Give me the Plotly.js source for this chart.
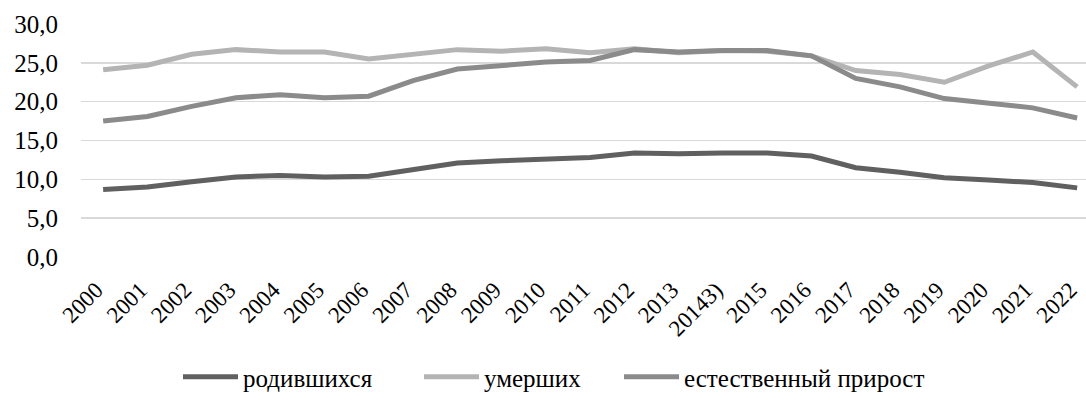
<!DOCTYPE html>
<html>
<head>
<meta charset="utf-8">
<script src="https://cdn.plot.ly/plotly-3.0.1.min.js"></script>
<style>html,body{margin:0;padding:0;background:#fff}#chart{width:1086px;height:400px}</style>
</head>
<body>
<div id="chart"></div>
<script>
const years = ["2000","2001","2002","2003","2004","2005","2006","2007","2008","2009","2010","2011","2012","2013","20143)","2015","2016","2017","2018","2019","2020","2021","2022"];
const births = [8.7,9.0,9.7,10.3,10.5,10.3,10.4,11.3,12.1,12.4,12.6,12.8,13.4,13.3,13.4,13.4,13.0,11.5,10.9,10.2,9.9,9.6,8.9];
const deaths = [24.1,24.7,26.1,26.7,26.4,26.4,25.5,26.1,26.7,26.5,26.8,26.3,26.8,26.3,26.6,26.5,25.9,24.0,23.5,22.5,24.6,26.4,21.9];
const natural = [17.5,18.1,19.4,20.5,20.9,20.5,20.7,22.7,24.2,24.7,25.1,25.3,26.7,26.4,26.6,26.6,25.9,23.0,21.9,20.4,19.8,19.2,17.9];
const names = ["родившихся","умерших","естественный прирост"];

const font = "Liberation Serif";
const mk = (y, name, color, lg) => ({x: years, y: y, name: name, type: 'scatter', mode: 'lines',
  line: {color: color, width: 5}, hoverinfo: 'skip', legend: lg});
const data = [
  mk(births, names[0], '#606060', 'legend'),
  mk(deaths, names[1], '#b4b4b4', 'legend2'),
  mk(natural, names[2], '#8b8b8b', 'legend3')
];
const lgd = (xpx) => ({orientation: 'h', xref: 'container', x: xpx / 1086, xanchor: 'left',
  yref: 'container', y: 0, yanchor: 'bottom', itemwidth: 55,
  font: {family: font, size: 25, color: '#000'}, bgcolor: 'rgba(0,0,0,0)', borderwidth: 0});
const layout = {
  width: 1086, height: 400,
  margin: {l: 81, r: 0, t: 24, b: 143},
  paper_bgcolor: '#fff', plot_bgcolor: '#fff',
  separators: ', ',
  font: {family: font, size: 24, color: '#000'},
  showlegend: true,
  legend: lgd(178), legend2: lgd(419), legend3: lgd(619),
  xaxis: {type: 'category', range: [-0.5, 22.2], tickangle: -45, showgrid: false, zeroline: false,
    showline: false, ticks: '', ticklabelstandoff: 14, ticklabelshift: -7,
    tickfont: {family: font, size: 23, color: '#000'}, automargin: false},
  yaxis: {range: [0, 30], dtick: 5, tickformat: '.1f', showgrid: true, gridcolor: '#d9d9d9', gridwidth: 1.5,
    zeroline: false, showline: false, ticks: '', ticklabelstandoff: 22,
    tickfont: {family: font, size: 25, color: '#000'}, automargin: false}
};
Plotly.newPlot('chart', data, layout, {staticPlot: true, displayModeBar: false});
</script>
</body>
</html>
